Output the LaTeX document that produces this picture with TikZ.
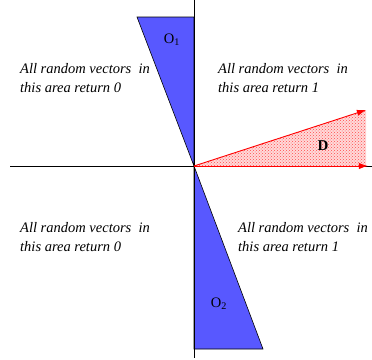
\documentclass[tikz,border=0pt]{standalone}
\usepackage{fontspec}
\setmainfont{Liberation Serif}
\usetikzlibrary{arrows.meta,patterns}
\definecolor{oblue}{RGB}{88,88,255}

\begin{document}
\begin{tikzpicture}[
  x=1pt, y=-1pt,
  axis/.style={line width=0.8pt},
  region/.style={fill=oblue, draw=black, line width=0.6pt},
  vec/.style={-{Latex[length=3.2mm, width=2.2mm]}, red, line width=0.9pt},
  tag/.style={font=\fontsize{14.5}{16}\selectfont, inner sep=0pt},
  note/.style={font=\itshape\fontsize{14.5}{19}\selectfont, align=left, anchor=north west, inner sep=0pt}
]
\useasboundingbox (0,0) rectangle (372,359);
% regions O1, O2
\coordinate (origin) at (194,166);
\draw[region] (137,17) -- (194,17) -- (origin) -- cycle;
\draw[region] (origin) -- (194,349) -- (263,349) -- cycle;
% area D
\coordinate (dtop) at (366,110);
\coordinate (dbot) at (368,166);
\fill[red!15] (origin) -- (dtop) -- (366,166) -- cycle;
\fill[pattern=crosshatch dots, pattern color=red!70] (origin) -- (dtop) -- (366,166) -- cycle;
% axes
\draw[axis] (194,0) -- (194,358);
\draw[axis] (10,166) -- (372,166);
\draw[vec] (origin) -- (dtop);
\draw[vec] (origin) -- (dbot);
% labels
\node[tag] (o1) at (172,40) {O\textsubscript{1}};
\node[tag] (o2) at (219,304) {O\textsubscript{2}};
\node[tag, font=\bfseries\fontsize{15}{16}\selectfont] (d) at (323,146) {D};
\node[note] (topleft) at (20,63) {All random vectors\ \ in\\this area return 0};
\node[note] (topright) at (218,63) {All random vectors\ \ in\\this area return 1};
\node[note] (botleft) at (20,222) {All random vectors\ \ in\\this area return 0};
\node[note] (botright) at (238,222) {All random vectors\ \ in\\this area return 1};
\end{tikzpicture}
\end{document}
